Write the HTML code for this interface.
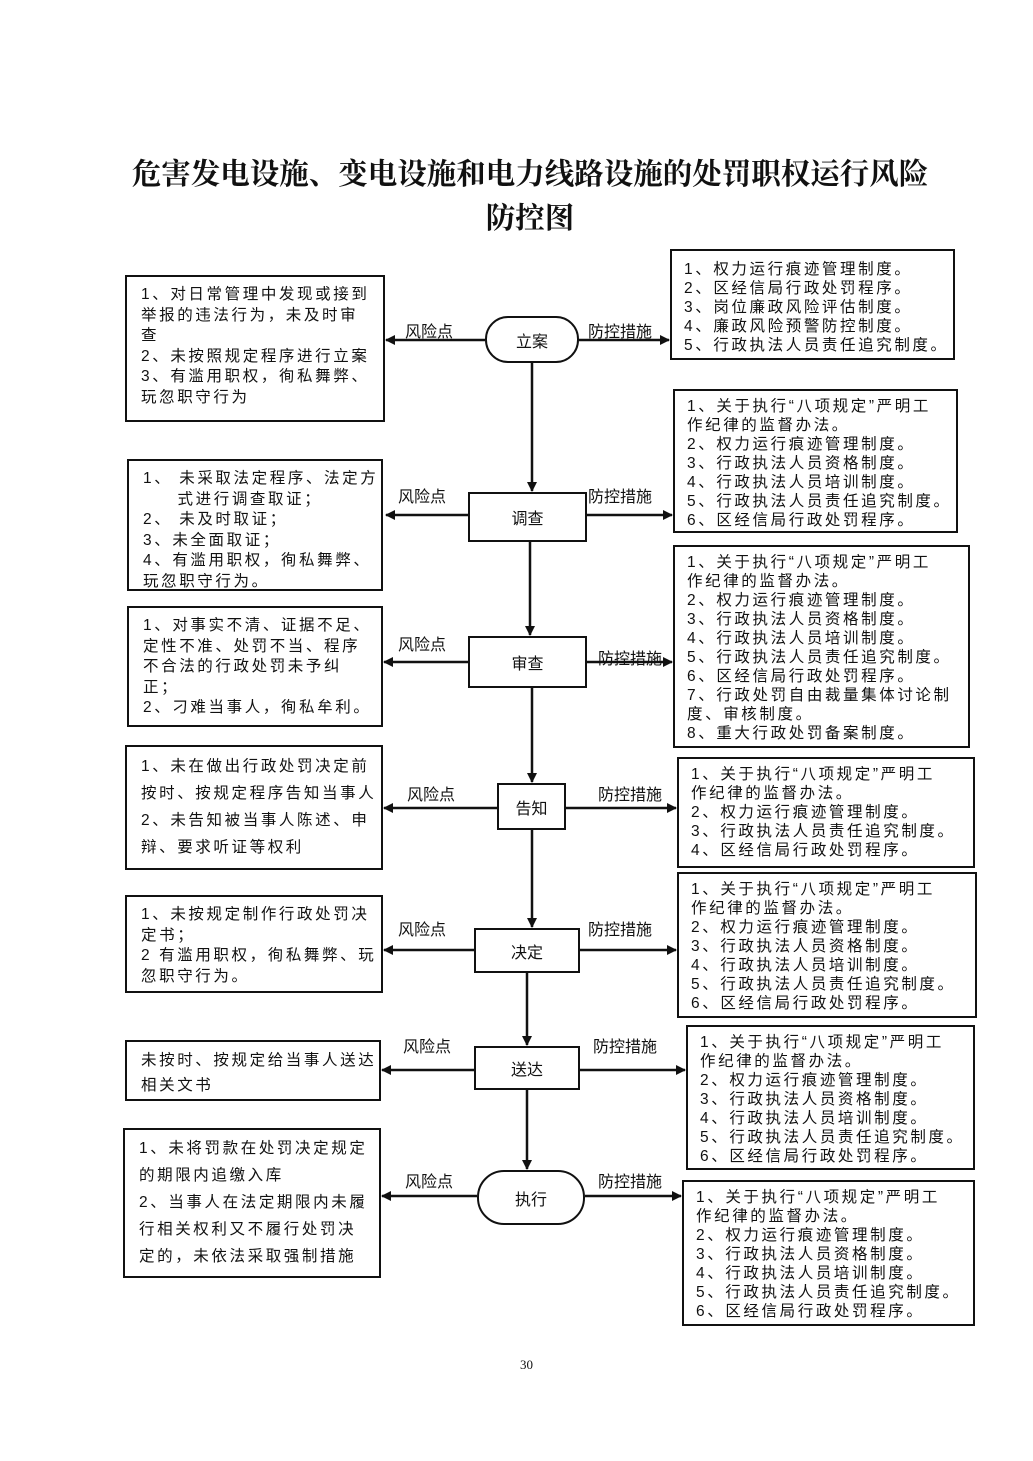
<!DOCTYPE html>
<html><head><meta charset="utf-8"><style>
body{margin:0;background:#fff;}
#p{position:relative;width:1033px;height:1461px;overflow:hidden;font-family:"Liberation Sans","Noto Sans CJK SC",sans-serif;color:#111;}
.b{position:absolute;border:2px solid #111;box-sizing:border-box;font-size:15.5px;letter-spacing:2.6px;line-height:19px;padding:6px 0 0 12px;white-space:nowrap;}
.l{line-height:20.5px;padding:8px 0 0 14px;}
.t{position:absolute;font-size:16px;white-space:nowrap;}
.n{position:absolute;border:2px solid #111;box-sizing:border-box;font-size:16px;display:flex;align-items:center;justify-content:center;background:#fff;}
h1{position:absolute;margin:0;left:0;width:1060px;text-align:center;font-family:"Noto Serif CJK SC",serif;font-weight:bold;font-size:29.5px;line-height:44px;top:150px;}
</style></head><body><div id="p">
<h1>危害发电设施、变电设施和电力线路设施的处罚职权运行风险<br>防控图</h1>
<svg width="1033" height="1461" style="position:absolute;left:0;top:0">
<defs><marker id="a" markerWidth="10" markerHeight="10" refX="9" refY="5" orient="auto" markerUnits="userSpaceOnUse"><path d="M0,0 L10,5 L0,10z" fill="#111"/></marker></defs>
<g stroke="#111" stroke-width="2.5" marker-end="url(#a)">
<line x1="485" y1="340" x2="386" y2="340"/><line x1="579" y1="340" x2="669" y2="340"/>
<line x1="468" y1="515" x2="386" y2="515"/><line x1="587" y1="515" x2="672" y2="515"/>
<line x1="468" y1="662" x2="384" y2="662"/><line x1="587" y1="662" x2="672" y2="662"/>
<line x1="497" y1="808" x2="384" y2="808"/><line x1="566" y1="808" x2="676" y2="808"/>
<line x1="474" y1="950" x2="384" y2="950"/><line x1="580" y1="950" x2="676" y2="950"/>
<line x1="474" y1="1070" x2="382" y2="1070"/><line x1="580" y1="1070" x2="685" y2="1070"/>
<line x1="477" y1="1196" x2="382" y2="1196"/><line x1="585" y1="1196" x2="681" y2="1196"/>
<line x1="532" y1="363" x2="532" y2="491"/>
<line x1="530" y1="542" x2="530" y2="635"/>
<line x1="532" y1="688" x2="532" y2="782"/>
<line x1="532" y1="830" x2="532" y2="927"/>
<line x1="527" y1="973" x2="527" y2="1045"/>
<line x1="527" y1="1090" x2="527" y2="1169"/>
</g></svg>
<div class="n" style="left:485px;top:316px;width:94px;height:47px;border-radius:23px">立案</div>
<div class="n" style="left:468px;top:492px;width:119px;height:50px">调查</div>
<div class="n" style="left:468px;top:636px;width:119px;height:52px">审查</div>
<div class="n" style="left:497px;top:783px;width:69px;height:47px">告知</div>
<div class="n" style="left:474px;top:928px;width:106px;height:45px">决定</div>
<div class="n" style="left:474px;top:1046px;width:106px;height:44px">送达</div>
<div class="n" style="left:477px;top:1170px;width:108px;height:55px;border-radius:27px">执行</div>
<div class="t" style="left:405px;top:318px">风险点</div><div class="t" style="left:588px;top:318px">防控措施</div>
<div class="t" style="left:398px;top:483px">风险点</div><div class="t" style="left:588px;top:483px">防控措施</div>
<div class="t" style="left:398px;top:631px">风险点</div><div class="t" style="left:598px;top:645px">防控措施</div>
<div class="t" style="left:407px;top:781px">风险点</div><div class="t" style="left:598px;top:781px">防控措施</div>
<div class="t" style="left:398px;top:916px">风险点</div><div class="t" style="left:588px;top:916px">防控措施</div>
<div class="t" style="left:403px;top:1033px">风险点</div><div class="t" style="left:593px;top:1033px">防控措施</div>
<div class="t" style="left:405px;top:1168px">风险点</div><div class="t" style="left:598px;top:1168px">防控措施</div>
<div class="b l" style="left:125px;top:275px;width:260px;height:147px">1、对日常管理中发现或接到<br>举报的违法行为，未及时审<br>查<br>2、未按照规定程序进行立案<br>3、有滥用职权，徇私舞弊、<br>玩忽职守行为</div>
<div class="b l" style="left:127px;top:459px;width:256px;height:132px">1、 未采取法定程序、法定方<br>&nbsp;&nbsp;&nbsp;&nbsp;&nbsp;式进行调查取证；<br>2、 未及时取证；<br>3、未全面取证；<br>4、有滥用职权，徇私舞弊、<br>玩忽职守行为。</div>
<div class="b l" style="left:127px;top:606px;width:256px;height:121px">1、对事实不清、证据不足、<br>定性不准、处罚不当、程序<br>不合法的行政处罚未予纠<br>正；<br>2、刁难当事人，徇私牟利。</div>
<div class="b l" style="left:125px;top:745px;width:258px;height:125px;line-height:27px;padding-top:6px">1、未在做出行政处罚决定前<br>按时、按规定程序告知当事人<br>2、未告知被当事人陈述、申<br>辩、要求听证等权利</div>
<div class="b l" style="left:125px;top:895px;width:258px;height:98px">1、未按规定制作行政处罚决<br>定书；<br>2 有滥用职权，徇私舞弊、玩<br>忽职守行为。</div>
<div class="b l" style="left:125px;top:1040px;width:256px;height:61px;line-height:25px;padding-top:6px">未按时、按规定给当事人送达<br>相关文书</div>
<div class="b l" style="left:123px;top:1128px;width:258px;height:150px;line-height:27px;padding-top:5px">1、未将罚款在处罚决定规定<br>的期限内追缴入库<br>2、当事人在法定期限内未履<br>行相关权利又不履行处罚决<br>定的，未依法采取强制措施</div>
<div class="b" style="left:670px;top:249px;width:285px;height:111px;padding-top:9px">1、权力运行痕迹管理制度。<br>2、区经信局行政处罚程序。<br>3、岗位廉政风险评估制度。<br>4、廉政风险预警防控制度。<br>5、行政执法人员责任追究制度。</div>
<div class="b" style="left:673px;top:389px;width:285px;height:144px">1、关于执行“八项规定”严明工<br>作纪律的监督办法。<br>2、权力运行痕迹管理制度。<br>3、行政执法人员资格制度。<br>4、行政执法人员培训制度。<br>5、行政执法人员责任追究制度。<br>6、区经信局行政处罚程序。</div>
<div class="b" style="left:673px;top:545px;width:297px;height:203px">1、关于执行“八项规定”严明工<br>作纪律的监督办法。<br>2、权力运行痕迹管理制度。<br>3、行政执法人员资格制度。<br>4、行政执法人员培训制度。<br>5、行政执法人员责任追究制度。<br>6、区经信局行政处罚程序。<br>7、行政处罚自由裁量集体讨论制<br>度、审核制度。<br>8、重大行政处罚备案制度。</div>
<div class="b" style="left:677px;top:757px;width:298px;height:111px">1、关于执行“八项规定”严明工<br>作纪律的监督办法。<br>2、权力运行痕迹管理制度。<br>3、行政执法人员责任追究制度。<br>4、区经信局行政处罚程序。</div>
<div class="b" style="left:677px;top:872px;width:300px;height:146px">1、关于执行“八项规定”严明工<br>作纪律的监督办法。<br>2、权力运行痕迹管理制度。<br>3、行政执法人员资格制度。<br>4、行政执法人员培训制度。<br>5、行政执法人员责任追究制度。<br>6、区经信局行政处罚程序。</div>
<div class="b" style="left:686px;top:1025px;width:289px;height:145px">1、关于执行“八项规定”严明工<br>作纪律的监督办法。<br>2、权力运行痕迹管理制度。<br>3、行政执法人员资格制度。<br>4、行政执法人员培训制度。<br>5、行政执法人员责任追究制度。<br>6、区经信局行政处罚程序。</div>
<div class="b" style="left:682px;top:1180px;width:293px;height:146px">1、关于执行“八项规定”严明工<br>作纪律的监督办法。<br>2、权力运行痕迹管理制度。<br>3、行政执法人员资格制度。<br>4、行政执法人员培训制度。<br>5、行政执法人员责任追究制度。<br>6、区经信局行政处罚程序。</div>
<div class="t" style="left:520px;top:1357px;font-size:13px;font-family:'Liberation Serif',serif">30</div>
</div></body></html>
